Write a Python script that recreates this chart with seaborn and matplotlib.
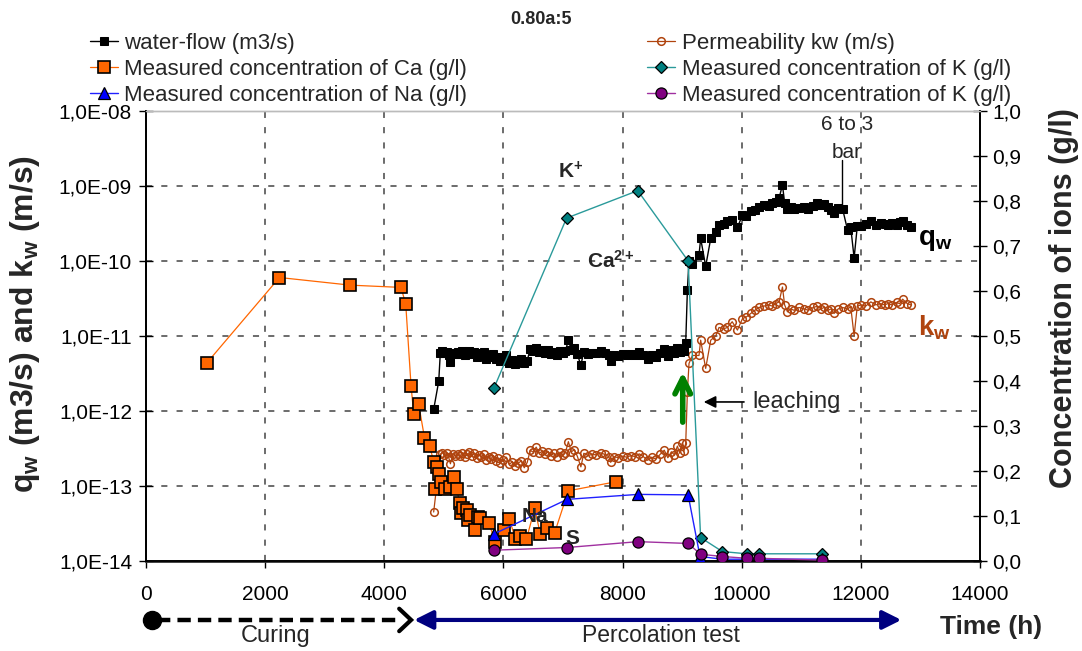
import math
import matplotlib
matplotlib.use("Agg")
import matplotlib.pyplot as plt
import matplotlib.ticker as mticker
from matplotlib.transforms import blended_transform_factory
import seaborn as sns

# ---------------------------------------------------------------- data
# water flow q_w (m3/s), left log axis
qw_hours = [4829, 4914, 4941, 4975, 5010, 5045, 5080, 5110, 5150, 5190, 5230, 5270,
            5310, 5350, 5390, 5430, 5470, 5510, 5550, 5590, 5630, 5670, 5710, 5750,
            5790, 5830, 5870, 5910, 5950, 6000, 6050, 6100, 6150, 6200, 6250, 6300,
            6350, 6400, 6450, 6500, 6550, 6600, 6650, 6700, 6750, 6800, 6850, 6900,
            6950, 7000, 7040, 7090, 7140, 7190, 7240, 7300, 7350, 7420, 7490, 7560,
            7630, 7700, 7770, 7800, 7860, 7930, 8000, 8070, 8140, 8210, 8280, 8350,
            8420, 8490, 8560, 8630, 8700, 8760, 8820, 8870, 8920, 8960, 9000, 9030,
            9060, 9088, 9115, 9172, 9283, 9311, 9395, 9480, 9564, 9619, 9700, 9760,
            9840, 9928, 10012, 10080, 10152, 10220, 10291, 10375, 10450, 10516, 10570,
            10627, 10684, 10720, 10768, 10820, 10879, 10960, 11047, 11120, 11200,
            11272, 11330, 11383, 11450, 11500, 11551, 11620, 11692, 11776, 11830,
            11887, 11940, 12000, 12080, 12168, 12250, 12330, 12400, 12449, 12520,
            12600, 12650, 12701, 12780, 12840]
qw_vals = [1.05e-12, 2.5e-12, 6.0e-12, 6.3e-12, 5.9e-12, 6.2e-12, 5.5e-12, 4.5e-12,
           6.0e-12, 5.8e-12, 6.1e-12, 5.7e-12, 6.3e-12, 5.6e-12, 6.0e-12, 6.4e-12,
           5.7e-12, 6.2e-12, 5.3e-12, 5.9e-12, 5.5e-12, 6.1e-12, 5.0e-12, 5.6e-12,
           5.2e-12, 5.8e-12, 4.9e-12, 5.3e-12, 4.6e-12, 5.0e-12, 5.5e-12, 4.4e-12,
           4.8e-12, 4.2e-12, 4.6e-12, 4.9e-12, 4.4e-12, 4.7e-12, 6.8e-12, 6.4e-12,
           7.0e-12, 6.2e-12, 6.6e-12, 6.0e-12, 6.5e-12, 5.8e-12, 6.2e-12, 5.6e-12,
           6.4e-12, 5.9e-12, 6.3e-12, 8.8e-12, 6.5e-12, 6.9e-12, 5.7e-12, 4.1e-12,
           6.2e-12, 5.8e-12, 6.0e-12, 5.9e-12, 6.3e-12, 6.0e-12, 5.6e-12, 4.7e-12,
           5.6e-12, 5.4e-12, 5.7e-12, 5.5e-12, 5.8e-12, 5.6e-12, 6.1e-12, 5.6e-12,
           5.0e-12, 5.5e-12, 5.2e-12, 6.0e-12, 6.8e-12, 5.4e-12, 6.5e-12, 5.9e-12,
           7.0e-12, 6.2e-12, 6.6e-12, 6.3e-12, 8.1e-12, 4.1e-11, 1.0e-10, 9.2e-11,
           1.2e-10, 2.0e-10, 8.5e-11, 2.0e-10, 2.4e-10, 3.0e-10, 3.1e-10, 3.4e-10,
           3.5e-10, 2.8e-10, 4.1e-10, 4.0e-10, 4.6e-10, 4.8e-10, 5.2e-10, 5.6e-10,
           5.4e-10, 5.9e-10, 6.2e-10, 6.9e-10, 1.03e-9, 6.0e-10, 5.0e-10, 5.2e-10,
           5.0e-10, 5.1e-10, 5.3e-10, 5.0e-10, 5.4e-10, 5.9e-10, 5.5e-10, 5.7e-10,
           5.2e-10, 4.8e-10, 4.3e-10, 5.1e-10, 5.0e-10, 2.6e-10, 2.8e-10, 1.1e-10,
           2.9e-10, 2.9e-10, 3.1e-10, 3.4e-10, 3.0e-10, 3.2e-10, 3.1e-10, 3.0e-10,
           3.2e-10, 3.0e-10, 3.3e-10, 3.4e-10, 3.0e-10, 2.8e-10]

# permeability k_w (m/s), left log axis
kw_hours = [4829, 4941, 4975, 5010, 5045, 5080, 5110, 5150, 5190, 5230, 5270, 5310,
            5350, 5390, 5430, 5470, 5510, 5550, 5590, 5630, 5670, 5710, 5750, 5790,
            5830, 5870, 5910, 5950, 6000, 6050, 6100, 6150, 6200, 6250, 6300, 6350,
            6400, 6450, 6500, 6550, 6600, 6650, 6700, 6750, 6800, 6850, 6900, 6950,
            7000, 7040, 7090, 7140, 7190, 7240, 7300, 7350, 7420, 7490, 7560, 7630,
            7700, 7770, 7800, 7860, 7930, 8000, 8070, 8140, 8210, 8280, 8350, 8420,
            8490, 8560, 8630, 8700, 8760, 8820, 8870, 8920, 8960, 9000, 9030, 9060,
            9088, 9115, 9172, 9283, 9311, 9395, 9480, 9564, 9619, 9700, 9760, 9840,
            9928, 10012, 10080, 10152, 10220, 10291, 10375, 10450, 10516, 10570,
            10627, 10684, 10720, 10768, 10820, 10879, 10960, 11047, 11120, 11200,
            11272, 11330, 11383, 11450, 11500, 11551, 11620, 11692, 11776, 11830,
            11887, 11940, 12000, 12080, 12168, 12250, 12330, 12400, 12449, 12520,
            12600, 12650, 12701, 12780, 12840]
kw_vals = [4.5e-14, 2.64e-13, 2.77e-13, 2.6e-13, 2.73e-13, 2.42e-13, 1.98e-13,
           2.64e-13, 2.55e-13, 2.68e-13, 2.5e-13, 2.77e-13, 2.46e-13, 2.64e-13,
           2.8e-13, 2.5e-13, 2.73e-13, 2.33e-13, 2.6e-13, 2.42e-13, 2.68e-13,
           2.2e-13, 2.46e-13, 2.29e-13, 2.55e-13, 2.16e-13, 2.33e-13, 2.02e-13,
           2.2e-13, 2.42e-13, 1.94e-13, 2.11e-13, 1.85e-13, 2.02e-13, 2.16e-13,
           1.75e-13, 2.07e-13, 3.0e-13, 2.82e-13, 3.3e-13, 2.73e-13, 2.9e-13,
           2.64e-13, 2.86e-13, 2.55e-13, 2.73e-13, 2.46e-13, 2.82e-13, 2.6e-13,
           2.77e-13, 3.9e-13, 2.86e-13, 3.04e-13, 2.5e-13, 1.8e-13, 2.73e-13,
           2.55e-13, 2.64e-13, 2.6e-13, 2.77e-13, 2.64e-13, 2.46e-13, 2.07e-13,
           2.46e-13, 2.38e-13, 2.5e-13, 2.42e-13, 2.55e-13, 2.46e-13, 2.68e-13,
           2.46e-13, 2.2e-13, 2.42e-13, 2.29e-13, 2.64e-13, 3.0e-13, 2.38e-13,
           2.86e-13, 2.6e-13, 3.4e-13, 2.73e-13, 3.7e-13, 2.9e-13, 3.7e-13,
           1.8e-12, 4.3e-12, 5.5e-12, 5.5e-12, 8.8e-12, 3.7e-12, 8.8e-12, 1.0e-11,
           1.3e-11, 1.25e-11, 1.3e-11, 1.55e-11, 1.2e-11, 1.7e-11, 1.8e-11,
           2.0e-11, 2.2e-11, 2.4e-11, 2.5e-11, 2.6e-11, 2.5e-11, 2.7e-11, 2.85e-11,
           4.5e-11, 2.6e-11, 2.1e-11, 2.3e-11, 2.2e-11, 2.4e-11, 2.3e-11, 2.2e-11,
           2.4e-11, 2.5e-11, 2.3e-11, 2.4e-11, 2.2e-11, 2.3e-11, 2.0e-11, 2.3e-11,
           2.4e-11, 2.3e-11, 2.45e-11, 1.0e-11, 2.5e-11, 2.6e-11, 2.5e-11, 2.85e-11,
           2.6e-11, 2.7e-11, 2.6e-11, 2.7e-11, 2.6e-11, 2.8e-11, 2.7e-11, 3.1e-11,
           2.7e-11, 2.6e-11]

# measured ion concentrations (g/l), right linear axis
ca_hours = [1020, 2240, 3430, 4280, 4360, 4450, 4495, 4575, 4675, 4760, 4830, 4855,
            4885, 4925, 4960, 5025, 5100, 5165, 5220, 5265, 5280, 5325, 5385, 5400,
            5435, 5530, 5570, 5615, 5755, 5865, 6005, 6100, 6200, 6285, 6385, 6525,
            6620, 6735, 6860, 7090, 7885]
ca_vals = [0.44, 0.63, 0.613, 0.608, 0.571, 0.388, 0.326, 0.35, 0.274, 0.256, 0.221,
           0.16, 0.21, 0.193, 0.176, 0.161, 0.165, 0.187, 0.159, 0.128, 0.106, 0.117,
           0.113, 0.091, 0.102, 0.069, 0.098, 0.095, 0.084, 0.043, 0.069, 0.093,
           0.05, 0.056, 0.048, 0.117, 0.059, 0.074, 0.063, 0.156, 0.176]

k_hours = [5840, 7060, 8255, 9100, 9310, 9675, 10085, 10290, 11345]
k_vals = [0.384, 0.762, 0.823, 0.667, 0.052, 0.021, 0.016, 0.016, 0.016]

na_hours = [5840, 7070, 8258, 9100, 9300, 9675, 10085, 10290, 11345]
na_vals = [0.06, 0.137, 0.148, 0.147, 0.01, 0.004, 0.004, 0.004, 0.004]

s_hours = [5840, 7070, 8258, 9100, 9310, 9675, 10085, 10290, 11345]
s_vals = [0.024, 0.03, 0.043, 0.039, 0.015, 0.01, 0.006, 0.006, 0.002]

x_ticks = [0, 2000, 4000, 6000, 8000, 10000, 12000, 14000]
left_ticks = [1e-14, 1e-13, 1e-12, 1e-11, 1e-10, 1e-9, 1e-8]
right_ticks = [0.0, 0.1, 0.2, 0.3, 0.4, 0.5, 0.6, 0.7, 0.8, 0.9, 1.0]

# ---------------------------------------------------------------- style
sns.set_theme(style="white")
plt.rcParams["font.family"] = ["Liberation Sans", "DejaVu Sans"]
plt.rcParams["mathtext.fontset"] = "custom"
plt.rcParams["mathtext.rm"] = "Liberation Sans"
plt.rcParams["mathtext.bf"] = "Liberation Sans:bold"
plt.rcParams["mathtext.it"] = "Liberation Sans:italic"

BROWN = "#B0440E"
ORANGE = "#FF6600"
TEAL = "#008080"
NAVY = "#000080"

W, H = 1082, 651
fig = plt.figure(figsize=(W / 100, H / 100), dpi=100)
ax = fig.add_axes([146 / W, 1 - 561 / H, (980 - 146) / W, 450 / H])
ax2 = ax.twinx()

common = dict(estimator=None, sort=False, legend=False)

sns.lineplot(x=qw_hours, y=qw_vals, ax=ax, color="black", lw=1.0, marker="s",
             markersize=6, markeredgecolor="black", markerfacecolor="black",
             label="water-flow (m3/s)", zorder=3, **common)
sns.lineplot(x=kw_hours, y=kw_vals, ax=ax, color=BROWN, lw=0.9, marker="o",
             markersize=5.5, markeredgecolor=BROWN, markerfacecolor="none",
             markeredgewidth=1.1, label="Permeability kw (m/s)", zorder=2, **common)

sns.lineplot(x=ca_hours, y=ca_vals, ax=ax2, color=ORANGE, lw=0.9, marker="s",
             markersize=8, markeredgecolor="black", markerfacecolor=ORANGE,
             markeredgewidth=1.2, label="Measured concentration of Ca (g/l)",
             zorder=3, **common)
sns.lineplot(x=k_hours, y=k_vals, ax=ax2, color="#2A9A9A", lw=1.0, marker="D",
             markersize=6.5, markeredgecolor="black", markerfacecolor=TEAL,
             markeredgewidth=0.9, label="Measured concentration of K (g/l)",
             zorder=3, **common)
sns.lineplot(x=na_hours, y=na_vals, ax=ax2, color="#2020FF", lw=1.0, marker="^",
             markersize=8, markeredgecolor="black", markerfacecolor="#0000FF",
             markeredgewidth=0.9, label="Measured concentration of Na (g/l)",
             zorder=3, **common)
sns.lineplot(x=s_hours, y=s_vals, ax=ax2, color="#A030A0", lw=1.0, marker="o",
             markersize=8, markeredgecolor="black", markerfacecolor="#800080",
             markeredgewidth=0.9, label="Measured concentration of K (g/l)",
             zorder=3, **common)

# ---------------------------------------------------------------- axes
ax.set_yscale("log")
ax.set_xlim(0, 14000)
ax.set_ylim(1e-14, 1e-8)
ax2.set_ylim(0, 1.0)
ax.set_xticks(x_ticks)
ax.set_yticks(left_ticks)
ax.yaxis.set_minor_locator(mticker.NullLocator())
ax2.set_yticks(right_ticks)
ax.yaxis.set_major_formatter(
    mticker.FuncFormatter(lambda v, p: f"1,0E{int(round(math.log10(v))):03d}"))
ax2.yaxis.set_major_formatter(
    mticker.FuncFormatter(lambda v, p: f"{v:.1f}".replace(".", ",")))

ax.grid(True, which="major", axis="both", linestyle=(0, (4, 6)), color="#444444", lw=1.1)
ax2.grid(False)

ax.tick_params(axis="x", direction="out", length=5, width=1, pad=12, labelsize=15,
               colors="black", bottom=True)
ax.tick_params(axis="y", direction="inout", length=10, width=1, pad=5, labelsize=15,
               colors="black", left=True)
ax2.tick_params(axis="y", direction="inout", length=10, width=1, pad=4, labelsize=15,
                colors="black", right=True)

for a in (ax, ax2):
    for side in ("left", "right", "bottom"):
        a.spines[side].set_color("black")
        a.spines[side].set_linewidth(1.3)
    a.spines["top"].set_color("#bbbbbb")
    a.spines["top"].set_linewidth(1.0)
ax.spines["bottom"].set_color("#333333")
ax.spines["bottom"].set_linewidth(2)

ax.set_xlabel("")
ax.set_ylabel(r"q$_{\mathbf{w}}$ (m3/s) and k$_{\mathbf{w}}$ (m/s)", fontsize=23,
              fontweight="bold")
ax.yaxis.set_label_coords(-0.125, 0.527)
ax2.set_ylabel("Concentration of ions (g/l)", fontsize=22, fontweight="bold",
               rotation=90)
ax2.yaxis.set_label_coords(1.083, 0.584)

fig.text(541 / W, 1 - 19 / H, "0.80a:5", ha="center", va="center", fontsize=13,
         fontweight="bold")

# legend in two columns above the plot
h1, l1 = ax.get_legend_handles_labels()
h2, l2 = ax2.get_legend_handles_labels()
handles = [h1[0], h2[0], h2[2], h1[1], h2[1], h2[3]]
labels = [l1[0], l2[0], l2[2], l1[1], l2[1], l2[3]]
fig.legend(handles, labels, ncol=2, loc="upper left",
           bbox_to_anchor=(90 / W, 1 - 33 / H), frameon=False, fontsize=16,
           handlelength=1.25, handletextpad=0.3, columnspacing=8.1,
           labelspacing=0.22, borderpad=0, borderaxespad=0)

# ---------------------------------------------------------------- annotations
ax.text(7127, 1.55e-9, r"K$^{\mathbf{+}}$", fontsize=15, fontweight="bold",
        ha="center", va="center")
ax.text(7800, 1.0e-10, r"Ca$^{\mathbf{2+}}$", fontsize=15, fontweight="bold",
        ha="center", va="center")
ax2.text(6522, 0.098, "Na", fontsize=15, fontweight="bold", ha="center", va="center")
ax2.text(7160, 0.051, "S", fontsize=15, fontweight="bold", ha="center", va="center")

ax.text(12960, 1.9e-10, r"q$_{\mathbf{w}}$", fontsize=20, fontweight="bold",
        ha="left", va="center", color="black")
ax.text(12960, 1.28e-11, r"k$_{\mathbf{w}}$", fontsize=20, fontweight="bold",
        ha="left", va="center", color=BROWN)

ax.text(11767, 6.7e-9, "6 to 3", fontsize=15, ha="center", va="center")
ax.text(11767, 2.84e-9, "bar", fontsize=15, ha="center", va="center")
ax.plot([11683, 11683], [2.2e-9, 5.25e-10], color="black", lw=1)

ax.annotate("leaching", xy=(9363, 1.32e-12), xytext=(10187, 1.32e-12),
            fontsize=17, ha="left", va="center",
            arrowprops=dict(arrowstyle="-|>", color="black", lw=1.2,
                            mutation_scale=18, shrinkA=4, shrinkB=0))
ax.annotate("", xy=(9010, 3.3e-12), xytext=(9010, 7.1e-13),
            arrowprops=dict(arrowstyle="->", color="#008000", lw=4,
                            mutation_scale=28, shrinkA=0, shrinkB=0))

# time-line below the x axis
trans = blended_transform_factory(ax.transData, ax.transAxes)
y_line = -0.131
ax.plot([100], [y_line], "o", color="black", markersize=13, transform=trans,
        clip_on=False)
ax.plot([180, 4300], [y_line, y_line], color="black", lw=3.2,
        linestyle=(0, (3, 1.6)), transform=trans, clip_on=False)
ax.plot([4250, 4450, 4250], [y_line + 0.025, y_line, y_line - 0.025],
        color="black", lw=3, transform=trans, clip_on=False,
        solid_capstyle="round", solid_joinstyle="miter")
ax.annotate("", xy=(12680, y_line), xytext=(4500, y_line), xycoords=trans,
            textcoords=trans, annotation_clip=False,
            arrowprops=dict(arrowstyle="<|-|>", color=NAVY, lw=3,
                            mutation_scale=28, shrinkA=0, shrinkB=0))
ax.text(2170, -0.166, "Curing", transform=trans, fontsize=17, ha="center",
        va="center")
ax.text(8640, -0.166, "Percolation test", transform=trans, fontsize=16.5,
        ha="center", va="center")
fig.text(991 / W, 1 - 627 / H, "Time (h)", fontsize=19, fontweight="bold",
         ha="center", va="center")

fig.savefig("out.png", dpi=100)
